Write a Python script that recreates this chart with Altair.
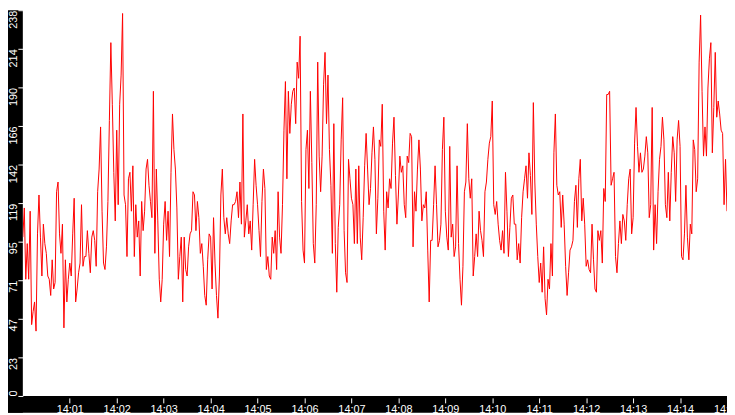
import pandas as pd
import altair as alt

# one reading every 1.875 s from 14:00:00 to 14:15:00
values_a = [98, 116, 72, 94, 72, 114, 44, 52, 58, 40, 100, 124, 98, 74, 106, 94, 88, 74, 72, 62,
            84, 66, 70, 126, 132, 100, 88, 106, 42, 84, 58, 72, 82, 74, 100, 122, 58, 66, 76, 82,
            118, 80, 86, 86, 102, 88, 76, 98, 102, 96, 80, 126, 140, 166, 114, 82, 78, 92, 120, 170,
            218, 180, 138, 108, 164, 118, 180]
values_b = [198, 236, 124, 118, 86, 134, 138, 114, 142, 86, 118, 98, 108, 74, 120, 102, 114, 140,
            146, 130, 120, 110, 188, 88, 140, 108, 72, 58, 72, 106, 120, 96, 114, 86, 138, 174, 152,
            140, 116, 72, 86, 98, 58, 98, 78, 74, 92, 100, 102, 126, 124, 102, 120, 110, 88, 94, 80,
            62, 56, 84, 100, 98, 66, 110, 82, 62, 48]
values_c = [74, 124, 140, 110, 100, 110, 100, 94, 108, 118, 118, 120, 126, 110, 132, 106, 174, 98,
            108, 118, 100, 108, 90, 118, 146, 130, 118, 102, 86, 120, 140, 128, 78, 86, 74, 72, 98,
            88, 102, 78, 126, 98, 88, 118, 164, 194, 134, 188, 162, 180, 188, 190, 168, 206, 196,
            222, 120, 90, 82, 152, 164, 128, 188, 144, 94, 82]
values_d = [118, 206, 148, 126, 148, 192, 212, 168, 198, 152, 130, 88, 168, 94, 64, 104, 118, 158,
            184, 102, 76, 70, 146, 134, 122, 118, 94, 140, 94, 142, 98, 84, 110, 142, 162, 140, 118,
            128, 150, 166, 146, 100, 122, 158, 154, 180, 114, 90, 126, 116, 134, 128, 156, 172, 136,
            106, 124, 148, 138, 142, 118, 110, 148, 144, 162, 160, 92, 126, 114, 140]
values_e = [158, 140, 108, 118, 116, 126, 90, 58, 96, 96, 118, 142, 118, 92, 96, 106, 152, 172, 114,
            98, 90, 154, 98, 106, 86, 92, 142, 94, 72, 56, 80, 126, 132, 168, 134, 122, 134, 74, 86,
            100, 86, 114, 102, 96, 86, 126, 132, 146, 156, 160, 182, 118, 112, 120, 106, 96, 90, 102,
            88, 138, 114, 86, 104, 122, 124, 106, 106, 84, 94, 82, 110, 126, 134, 142, 122, 150, 136,
            112, 181, 132, 106, 86, 70, 82, 64, 92, 60, 50, 72, 66, 94, 74, 150, 174, 130, 124, 126,
            104, 124, 106, 80, 62, 76, 90, 92, 96, 120]
values_f = [130, 104, 134, 146, 108, 122, 106, 80, 84, 78, 76, 106, 84, 66, 64, 102, 96, 102, 82,
            128, 120, 186, 186, 188, 130, 134, 138, 86, 76, 94, 108, 94, 112, 108, 96, 118, 134, 140,
            100, 110, 156, 178, 154]
values_g = [138, 150, 138, 140, 148, 160, 150, 110, 118, 178, 90, 118, 94, 126, 146, 154, 172, 158,
            118, 110, 138, 108, 138, 160, 150, 120, 158, 170, 154, 86, 84, 100, 130, 98, 84, 106, 100,
            158, 152, 126, 134, 206, 235, 188, 148, 166, 148, 190, 208, 218, 150, 178, 212, 172, 182,
            174, 164, 162, 118, 146, 114]

values = values_a + values_b + values_c + values_d + values_e + values_f + values_g

y_ticks = [0, 23.8, 47.6, 71.4, 95.2, 119, 142.8, 166.6, 190.4, 214.2, 238]
x_minutes = list(range(1, 16))

W, H = 712, 390  # plot area
LEFT, BOTTOM = 15, 17  # black axis bands

df = pd.DataFrame({
    "time": pd.date_range("2024-01-01 14:00:00", periods=len(values), freq="1875ms"),
    "value": values,
})


def at(minute):
    return alt.DateTime(year=2024, month=1, date=1, hours=14, minutes=minute)


x_axis = alt.Axis(
    values=[at(m) for m in x_minutes], format="%H:%M", title=None,
    domain=False, grid=False, tickColor="white", tickSize=5, offset=2,
    labelColor="white", labelFont="Liberation Sans", labelFontSize=11,
    labelPadding=1, labelFlush=False, labelOverlap=False, zindex=1,
)
y_axis = alt.Axis(
    values=y_ticks, labelExpr="floor(datum.value)", title=None,
    domain=False, grid=False, tickColor="white", tickSize=5,
    labelColor="white", labelFont="Liberation Sans", labelFontSize=11,
    labelAngle=270, labelBaseline="alphabetic", labelPadding=1,
    labelAlign={"condition": {"test": "datum.value == 0", "value": "left"}, "value": "right"},
    labelOverlap=False, zindex=1,
)

band = alt.Chart(alt.Data(values=[{}])).mark_rect(color="black", clip=False)
left_band = band.encode(x=alt.value(-LEFT), x2=alt.value(0), y=alt.value(0), y2=alt.value(H + BOTTOM))
bottom_band = band.encode(x=alt.value(-LEFT), x2=alt.value(W), y=alt.value(H), y2=alt.value(H + BOTTOM))

line = alt.Chart(df).mark_line(color="#ff0000", strokeWidth=1, clip=True).encode(
    x=alt.X("time:T", scale=alt.Scale(domain=[at(0), at(15)]), axis=x_axis),
    y=alt.Y("value:Q", scale=alt.Scale(domain=[0, 238], nice=False), axis=y_axis),
)

chart = alt.layer(left_band, bottom_band, line).properties(
    width=W,
    height=H,
    padding={"left": LEFT, "bottom": BOTTOM, "top": 0, "right": 0},
    autosize=alt.AutoSizeParams(type="none"),
    background="white",
).configure_view(strokeWidth=0)

chart.save("out.html", embed_options={"renderer": "svg", "actions": False})
